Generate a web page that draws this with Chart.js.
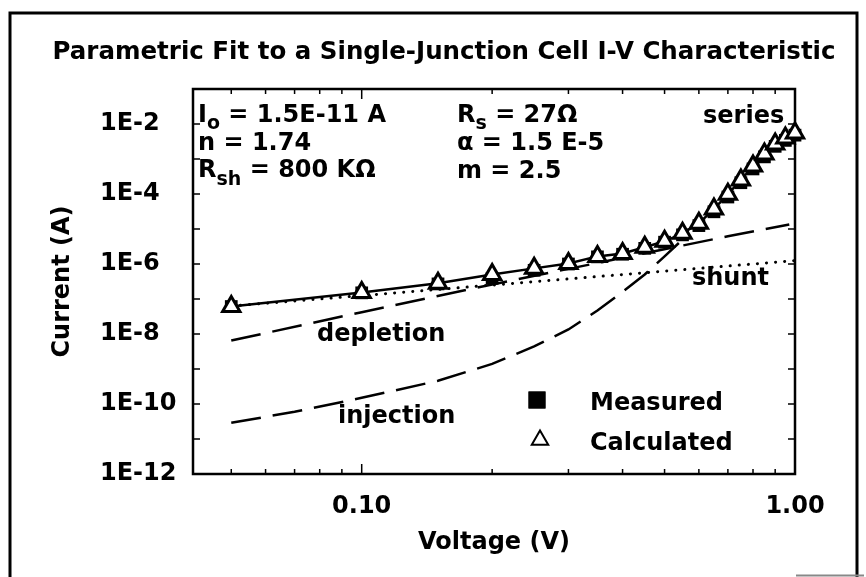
<!DOCTYPE html>
<html>
<head>
<meta charset="utf-8">
<title>Parametric Fit to a Single-Junction Cell I-V Characteristic</title>
<script src="https://cdn.jsdelivr.net/npm/chart.js@4.4.1/dist/chart.umd.min.js"></script>
<style>
  html, body { margin: 0; padding: 0; background: #fff; }
  #wrap { width: 866px; height: 577px; }
</style>
</head>
<body>
<div id="wrap"><canvas id="ivChart" width="866" height="577"></canvas></div>
<script>
// values
var voltages   = [0.05, 0.10, 0.15, 0.20, 0.25, 0.30, 0.35, 0.40, 0.45, 0.50,
                  0.55, 0.60, 0.65, 0.70, 0.75, 0.80, 0.85, 0.90, 0.95, 1.00];
var calculated = [6.1e-8, 1.53e-7, 2.8e-7, 5.0e-7, 7.5e-7, 1.04e-6, 1.65e-6, 2.0e-6, 3.0e-6, 4.45e-6,
                  7.5e-6, 1.46e-5, 3.7e-5, 9.9e-5, 2.5e-4, 6.3e-4, 1.38e-3, 2.7e-3, 4.0e-3, 5.5e-3];
var measured   = [6.1e-8, 1.5e-7, 2.7e-7, 3.9e-7, 6.6e-7, 1.0e-6, 1.6e-6, 1.9e-6, 2.8e-6, 4.2e-6,
                  6.8e-6, 1.25e-5, 3.1e-5, 8.2e-5, 2.1e-4, 5.2e-4, 1.15e-3, 2.3e-3, 3.4e-3, 4.8e-3];

var shuntV     = [0.05, 0.10, 0.20, 0.40, 0.60, 0.80, 1.00];
var shuntI     = [6.3e-8, 1.25e-7, 2.5e-7, 5.0e-7, 7.5e-7, 1.0e-6, 1.25e-6];

var depletionV = [0.05, 0.10, 0.20, 0.40, 0.70, 0.97];
var depletionI = [6.5e-9, 4.2e-8, 2.6e-7, 1.5e-6, 6.2e-6, 1.35e-5];

var injectionV = [0.05, 0.07, 0.10, 0.15, 0.20, 0.25, 0.30, 0.35, 0.40, 0.45, 0.50, 0.55];
var injectionI = [2.9e-11, 6.0e-11, 1.5e-10, 4.6e-10, 1.4e-9, 4.4e-9, 1.35e-8, 4.7e-8, 1.6e-7, 5.0e-7, 1.65e-6, 5.0e-6];

var xTickValues = [0.10, 1.00];
var xMinorTicks = [0.05, 0.06, 0.07, 0.08, 0.09, 0.2, 0.3, 0.4, 0.5, 0.6, 0.7, 0.8, 0.9];
var yTickValues = [1e-12, 1e-11, 1e-10, 1e-9, 1e-8, 1e-7, 1e-6, 1e-5, 1e-4, 1e-3, 1e-2];

var FONT = '"DejaVu Sans", "Liberation Sans", Arial, sans-serif';

function pairs(xs, ys) {
    return xs.map(function(x, i) { return { x: x, y: ys[i] }; });
}

// text pieces: [text, size, baseline shift]
function drawRich(ctx, x, y, parts) {
    ctx.textAlign = 'left';
    ctx.textBaseline = 'alphabetic';
    parts.forEach(function(p) {
        ctx.font = 'bold ' + p[1] + 'px ' + FONT;
        ctx.fillText(p[0], x, y + (p[2] || 0));
        x += ctx.measureText(p[0]).width;
    });
}

var decorPlugin = {
    id: 'ivDecor',
    beforeDatasetsDraw: function(chart) {
        var ctx = chart.ctx, a = chart.chartArea;
        var xs = chart.scales.x, ys = chart.scales.y;
        ctx.save();
        ctx.strokeStyle = '#000';
        ctx.lineWidth = 2.5;
        ctx.strokeRect(a.left, a.top, a.right - a.left, a.bottom - a.top);

        ctx.lineWidth = 1.5;
        ctx.beginPath();
        yTickValues.forEach(function(v) {
            var py = ys.getPixelForValue(v);
            ctx.moveTo(a.left, py); ctx.lineTo(a.left + 7, py);
            ctx.moveTo(a.right, py); ctx.lineTo(a.right - 7, py);
        });
        xMinorTicks.concat(xTickValues).forEach(function(v) {
            var px = xs.getPixelForValue(v);
            var len = xTickValues.indexOf(v) >= 0 ? 10 : 5;
            ctx.moveTo(px, a.bottom); ctx.lineTo(px, a.bottom - len);
            ctx.moveTo(px, a.top); ctx.lineTo(px, a.top + len);
        });
        ctx.stroke();
        ctx.restore();
    },
    afterDraw: function(chart) {
        var ctx = chart.ctx, a = chart.chartArea;
        ctx.save();
        ctx.fillStyle = '#000';

        // outer frame
        ctx.strokeStyle = '#000';
        ctx.lineWidth = 3;
        ctx.beginPath();
        ctx.moveTo(10, 600); ctx.lineTo(10, 13); ctx.lineTo(857, 13); ctx.lineTo(857, 600);
        ctx.stroke();
        ctx.strokeStyle = '#888';
        ctx.lineWidth = 2;
        ctx.beginPath();
        ctx.moveTo(796, 575.5); ctx.lineTo(864, 575.5);
        ctx.stroke();

        // title
        ctx.font = 'bold 24.5px ' + FONT;
        ctx.textAlign = 'center';
        ctx.textBaseline = 'middle';
        ctx.fillText('Parametric Fit to a Single-Junction Cell I-V Characteristic', 444, 53);

        // axis titles
        ctx.font = 'bold 24px ' + FONT;
        ctx.fillText('Voltage (V)', (a.left + a.right) / 2, 543);
        ctx.save();
        ctx.translate(63, (a.top + a.bottom) / 2);
        ctx.rotate(-Math.PI / 2);
        ctx.fillText('Current (A)', 0, 0);
        ctx.restore();

        // fit parameters
        drawRich(ctx, 198, 122, [['I', 24], ['o', 19, 7], [' = 1.5E-11 A', 24]]);
        drawRich(ctx, 198, 150, [['n = 1.74', 24]]);
        drawRich(ctx, 198, 177, [['R', 24], ['sh', 19, 8], [' = 800 K\u03A9', 24]]);
        drawRich(ctx, 457, 122, [['R', 24], ['s', 19, 7], [' = 27\u03A9', 24]]);
        drawRich(ctx, 457, 150, [['\u03B1 = 1.5 E-5', 24]]);
        drawRich(ctx, 457, 178, [['m = 2.5', 24]]);

        // curve names
        drawRich(ctx, 703, 123, [['series', 24]]);
        drawRich(ctx, 692, 285, [['shunt', 24]]);
        drawRich(ctx, 317, 341, [['depletion', 24]]);
        drawRich(ctx, 338, 423, [['injection', 24]]);

        // legend
        var h = Chart.helpers;
        h.drawPoint(ctx, { pointStyle: 'rect', radius: 12, borderWidth: 0 }, 537, 400);
        ctx.fill();
        ctx.strokeStyle = '#000';
        ctx.fillStyle = '#fff';
        ctx.lineWidth = 2;
        h.drawPoint(ctx, { pointStyle: 'triangle', radius: 9.5, borderWidth: 2 }, 540, 440);
        ctx.fillStyle = '#000';
        drawRich(ctx, 590, 410, [['Measured', 24]]);
        drawRich(ctx, 590, 450, [['Calculated', 24]]);
        ctx.restore();
    }
};

var ctx = document.getElementById('ivChart').getContext('2d');
new Chart(ctx, {
    type: 'scatter',
    data: {
        datasets: [
            {
                label: 'Calculated',
                data: pairs(voltages, calculated),
                showLine: true,
                borderColor: '#000',
                borderWidth: 2.5,
                pointStyle: 'triangle',
                pointRadius: 10,
                pointBackgroundColor: '#fff',
                pointBorderColor: '#000',
                pointBorderWidth: 3,
                clip: false,
                order: 0
            },
            {
                label: 'Measured',
                data: pairs(voltages, measured),
                showLine: false,
                pointStyle: 'rect',
                pointRadius: 9,
                pointBackgroundColor: '#000',
                pointBorderWidth: 0,
                clip: false,
                order: 1
            },
            {
                label: 'shunt',
                data: pairs(shuntV, shuntI),
                showLine: true,
                borderColor: '#000',
                borderWidth: 3,
                borderDash: [0.1, 9],
                borderCapStyle: 'round',
                pointRadius: 0,
                order: 2
            },
            {
                label: 'depletion',
                data: pairs(depletionV, depletionI),
                showLine: true,
                borderColor: '#000',
                borderWidth: 2.5,
                borderDash: [30, 12],
                pointRadius: 0,
                order: 3
            },
            {
                label: 'injection',
                data: pairs(injectionV, injectionI),
                showLine: true,
                borderColor: '#000',
                borderWidth: 2.5,
                borderDash: [30, 12],
                pointRadius: 0,
                order: 4
            }
        ]
    },
    options: {
        responsive: false,
        animation: false,
        devicePixelRatio: 1,
        layout: { padding: { left: 100, right: 71, top: 89, bottom: 0 } },
        plugins: {
            legend: { display: false },
            tooltip: { enabled: false },
            title: { display: false }
        },
        scales: {
            x: {
                type: 'logarithmic',
                min: 0.0408,
                max: 1.0,
                grid: { display: false, drawTicks: false },
                border: { display: false },
                afterBuildTicks: function(s) {
                    s.ticks = xTickValues.map(function(v) { return { value: v }; });
                },
                afterFit: function(s) { s.height = 103; },
                ticks: {
                    autoSkip: false,
                    maxRotation: 0,
                    padding: 18,
                    color: '#000',
                    font: { family: FONT, size: 24, weight: 'bold' },
                    callback: function(v) { return Number(v).toFixed(2); }
                }
            },
            y: {
                type: 'logarithmic',
                min: 1e-12,
                max: 1e-1,
                grid: { display: false, drawTicks: false },
                border: { display: false },
                afterBuildTicks: function(s) {
                    s.ticks = yTickValues.map(function(v) { return { value: v }; });
                },
                afterFit: function(s) { s.width = 93; },
                ticks: {
                    autoSkip: false,
                    crossAlign: 'far',
                    color: '#000',
                    font: { family: FONT, size: 24, weight: 'bold' },
                    callback: function(v) {
                        var e = Math.round(Math.log10(v));
                        return e % 2 === 0 ? '1E' + e : '';
                    }
                }
            }
        }
    },
    plugins: [decorPlugin]
});
</script>
</body>
</html>
